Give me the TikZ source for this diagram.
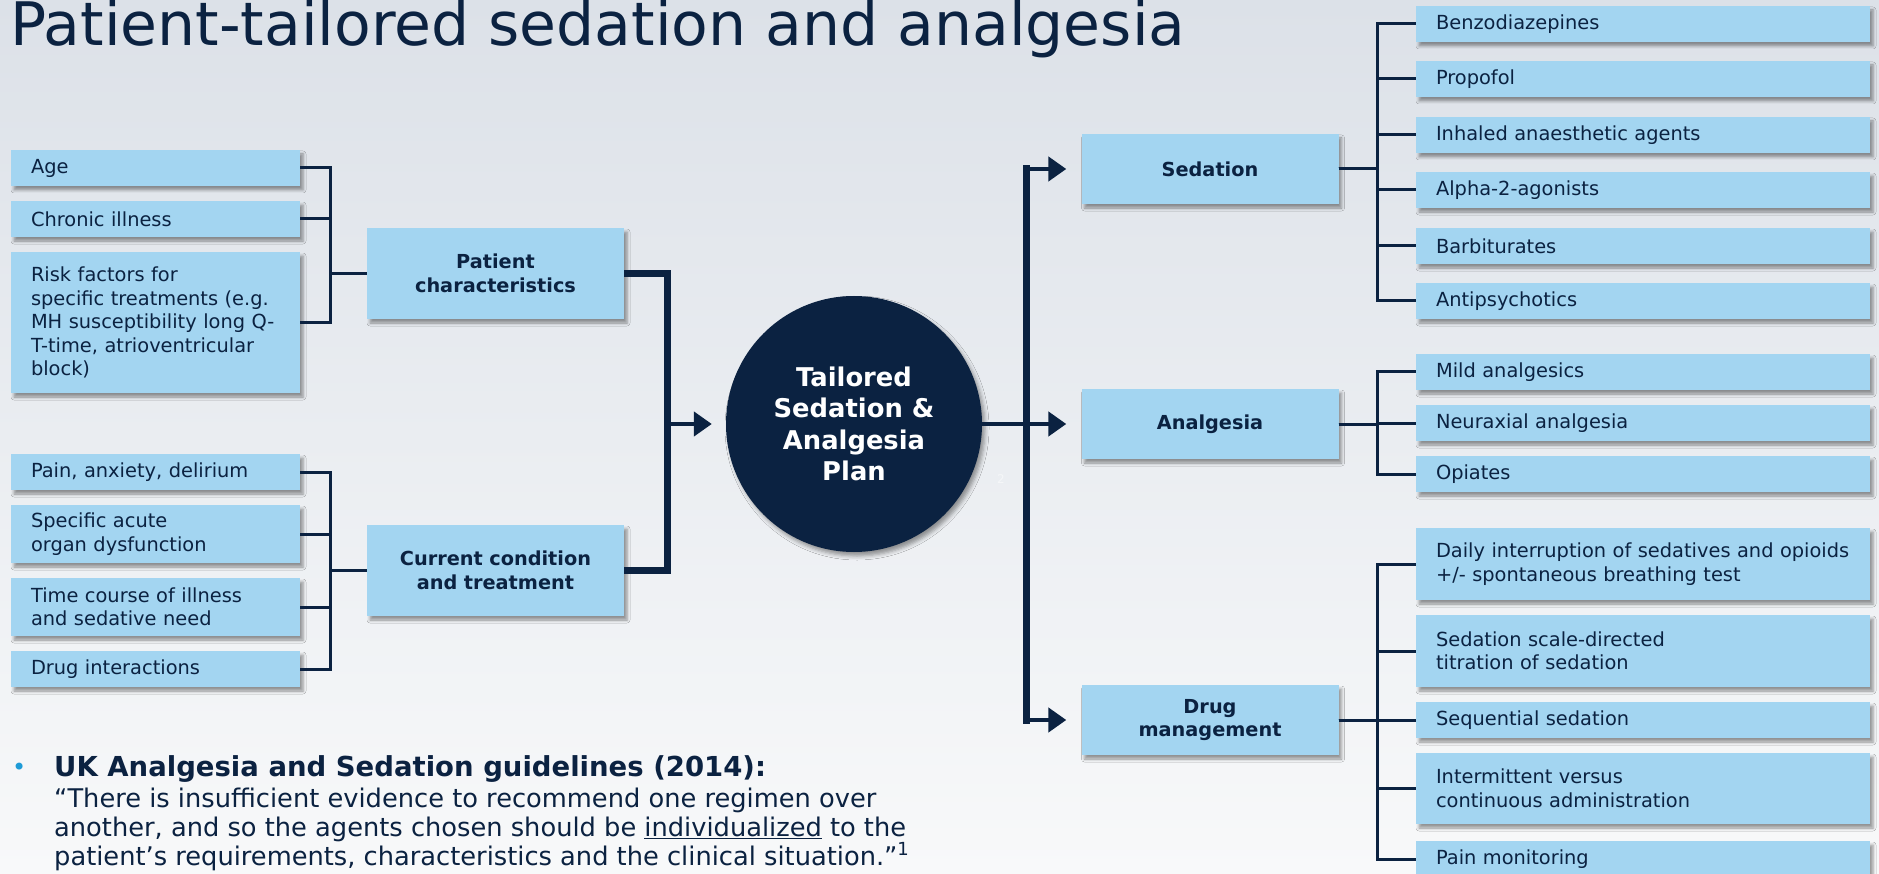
\documentclass[tikz,border=0pt]{standalone}
\usepackage{fontspec}
\setmainfont{DejaVu Sans}
\usetikzlibrary{arrows.meta,shadows.blur}
\definecolor{navy}{HTML}{0B2241}
\definecolor{boxblue}{HTML}{A3D5F1}
\definecolor{bgtop}{HTML}{DCE1E8}
\definecolor{bgbot}{HTML}{F8F9FA}
\definecolor{bulletblue}{HTML}{1E9BD7}
\newcommand\nb[1]{\mbox{#1}}
\tikzset{
 box/.style={rectangle, fill=boxblue, text=navy, inner xsep=20pt, inner ysep=0pt, align=left,
   font=\fontsize{19.4}{23.5}\selectfont,
   blur shadow={shadow xshift=3pt, shadow yshift=-4pt, shadow blur radius=3pt, shadow opacity=40}},
 leftitem/.style={box, text width=249pt},
 rightitem/.style={box, text width=414pt},
 midbox/.style={box, inner xsep=0pt, text width=257pt, align=center, font=\fontsize{19.3}{23.5}\selectfont\bfseries},
 thinline/.style={draw=navy, line width=3pt},
 thickline/.style={draw=navy, line width=7pt},
 arrowline/.style={draw=navy, line width=4.5pt, -{Triangle[length=18pt,width=24pt]}},
 plaintext/.style={inner sep=0pt, anchor=base west, text=navy},
}
\begin{document}
\begin{tikzpicture}[x=1pt,y=-1pt]
\useasboundingbox (0,0) rectangle (1879,874);
\fill[top color=bgtop, bottom color=bgbot] (0,0) rectangle (1879,874);

% title
\node[plaintext, font=\fontsize{60}{60}\selectfont] (title) at (10,46) {Patient-tailored sedation and analgesia};

% left items
\node[leftitem, minimum height=36pt] (age) at (155.5,168) {Age};
\node[leftitem, minimum height=36pt] (chron) at (155.5,219) {Chronic illness};
\node[leftitem, minimum height=141pt] (risk) at (155.5,322.5) {\nb{Risk factors for}\\\nb{specific treatments (e.g.}\\\nb{MH susceptibility long Q-}\\\nb{T-time, atrioventricular}\\\nb{block)}};
\node[leftitem, minimum height=36pt] (pain) at (155.5,472) {\nb{Pain, anxiety, delirium}};
\node[leftitem, minimum height=58pt] (acute) at (155.5,534) {\nb{Specific acute}\\\nb{organ dysfunction}};
\node[leftitem, minimum height=58pt] (course) at (155.5,607) {\nb{Time course of illness}\\\nb{and sedative need}};
\node[leftitem, minimum height=36pt] (inter) at (155.5,669) {\nb{Drug interactions}};

% middle boxes
\node[midbox, minimum height=91pt] (pc) at (495.5,273.5) {Patient\\characteristics};
\node[midbox, minimum height=91pt] (cc) at (495.5,570.5) {Current condition\\and treatment};

% circle
\node[circle, fill=navy, minimum size=256pt, inner sep=0pt, text=white, align=center,
  font=\fontsize{25.8}{31.5}\selectfont\bfseries,
  blur shadow={shadow xshift=3pt, shadow yshift=-4pt, shadow blur radius=4pt, shadow opacity=40}]
  (circ) at (854,424) {Tailored\\Sedation \&\\Analgesia\\Plan};
\node[text=white, opacity=0.5, inner sep=0pt, font=\fontsize{12}{12}\selectfont] (fn2) at (1001,479) {2};

% right category boxes
\node[midbox, minimum height=70pt] (sed) at (1210,169) {Sedation};
\node[midbox, minimum height=70pt] (ana) at (1210,424) {Analgesia};
\node[midbox, minimum height=70pt] (dm) at (1210,720) {Drug\\management};

% right items
\node[rightitem, minimum height=36pt] (benzo) at (1643,24) {Benzodiazepines};
\node[rightitem, minimum height=36pt] (prop) at (1643,79) {Propofol};
\node[rightitem, minimum height=36pt] (inh) at (1643,135) {Inhaled anaesthetic agents};
\node[rightitem, minimum height=36pt] (alpha) at (1643,190) {Alpha-2-agonists};
\node[rightitem, minimum height=36pt] (barb) at (1643,246) {Barbiturates};
\node[rightitem, minimum height=36pt] (anti) at (1643,301) {Antipsychotics};
\node[rightitem, minimum height=36pt] (mild) at (1643,372) {Mild analgesics};
\node[rightitem, minimum height=36pt] (neur) at (1643,423) {Neuraxial analgesia};
\node[rightitem, minimum height=36pt] (opi) at (1643,474) {Opiates};
\node[rightitem, minimum height=72pt] (daily) at (1643,564) {\nb{Daily interruption of sedatives and opioids}\\\nb{+/- spontaneous breathing test}};
\node[rightitem, minimum height=72pt] (scale) at (1643,651) {\nb{Sedation scale-directed}\\\nb{titration of sedation}};
\node[rightitem, minimum height=36pt] (seq) at (1643,720) {Sequential sedation};
\node[rightitem, minimum height=71pt] (intm) at (1643,788.5) {\nb{Intermittent versus}\\\nb{continuous administration}};
\node[rightitem, minimum height=36pt] (painmon) at (1643,859) {Pain monitoring};

% junction coordinates
\coordinate (jL1) at (330,273.5);
\coordinate (jL2) at (330,570.5);
\coordinate (jM) at (667,424);
\coordinate (jR) at (1026,424);
\coordinate (jS) at (1377,169);
\coordinate (jA) at (1377,424);
\coordinate (jD) at (1377,720);

% left thin brackets
\foreach \n in {age,chron,risk} \draw[thinline] (\n.east) -- (\n.east -| jL1) |- (pc.west);
\foreach \n in {pain,acute,course,inter} \draw[thinline] (\n.east) -- (\n.east -| jL2) |- (cc.west);

% thick main bracket
\draw[thickline] (pc.east) -| (jM);
\draw[thickline] (cc.east) -| (jM);
\draw[arrowline, shorten >=14pt] (jM) -- (circ.west);

% right trunk
\draw[arrowline, shorten >=15pt] (circ.east) -- (ana.west);
\draw[thickline, line cap=rect] (jR |- sed.west) -- (jR |- dm.west);
\draw[arrowline, shorten >=15pt] (jR |- sed.west) -- (sed.west);
\draw[arrowline, shorten >=15pt] (jR |- dm.west) -- (dm.west);

% right thin brackets
\foreach \n in {benzo,prop,inh,alpha,barb,anti} \draw[thinline] (sed.east) -- (jS) |- (\n.west);
\foreach \n in {mild,neur,opi} \draw[thinline] (ana.east) -- (jA) |- (\n.west);
\foreach \n in {daily,scale,seq,intm,painmon} \draw[thinline] (dm.east) -- (jD) |- (\n.west);

% bottom quote
\node[inner sep=0pt, anchor=base west, text=bulletblue, font=\fontsize{24}{24}\selectfont] (bul) at (12,775) {•};
\node[plaintext, font=\fontsize{27.5}{29}\selectfont\bfseries] (q1) at (54,776) {UK Analgesia and Sedation guidelines (2014):};
\node[plaintext, font=\fontsize{25.7}{29}\selectfont] (q2) at (54,807) {“There is insufficient evidence to recommend one regimen over};
\node[plaintext, font=\fontsize{25.7}{29}\selectfont] (q3) at (54,836) {another, and so the agents chosen should be \underline{individualized} to the};
\node[plaintext, font=\fontsize{25.7}{29}\selectfont] (q4) at (54,865) {patient’s requirements, characteristics and the clinical situation.”\textsuperscript{1}};
\end{tikzpicture}
\end{document}
